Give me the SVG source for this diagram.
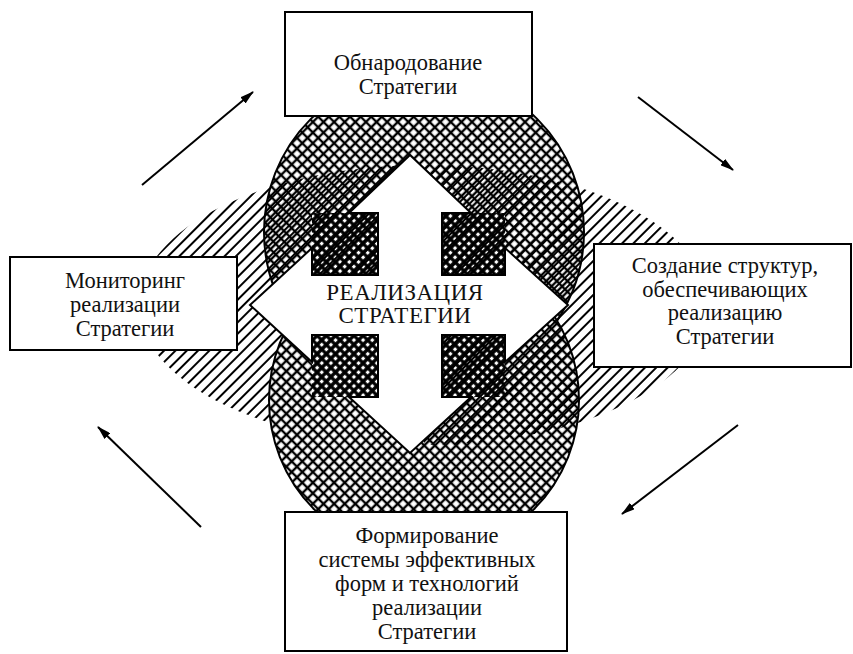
<svg xmlns="http://www.w3.org/2000/svg" width="853" height="654" viewBox="0 0 853 654">
<style>
.box{fill:#fff;stroke:#000;stroke-width:2}
.t{font-family:"Liberation Serif","Times New Roman",serif;font-size:22.5px;fill:#111;text-anchor:middle}
.tc{font-family:"Liberation Serif","Times New Roman",serif;font-size:23px;fill:#111;text-anchor:middle;letter-spacing:0.5px}
.arr{stroke:#000;stroke-width:2;fill:none;marker-end:url(#ah)}
</style>
<defs>
<pattern id="cross" width="7.5" height="7.5" patternUnits="userSpaceOnUse" patternTransform="rotate(45)">
<rect width="7.5" height="7.5" fill="#fff"/>
<path d="M0 0H7.5M0 7.5H7.5M0 0V7.5M7.5 0V7.5" stroke="#000" stroke-width="2.4"/>
</pattern>
<pattern id="crossD" width="6.5" height="6.5" patternUnits="userSpaceOnUse" patternTransform="rotate(45)">
<rect width="6.5" height="6.5" fill="#fff"/>
<path d="M0 0H6.5M0 6.5H6.5M0 0V6.5M6.5 0V6.5" stroke="#000" stroke-width="3.4"/>
</pattern>
<pattern id="hatch" width="8" height="8" patternUnits="userSpaceOnUse" patternTransform="rotate(-45)">
<path d="M0 4H8" stroke="#000" stroke-width="2"/>
</pattern>
<clipPath id="circ">
<circle cx="424" cy="232" r="160"/>
<circle cx="424" cy="400" r="155"/>
</clipPath>
<clipPath id="nobl">
<polygon points="0,0 853,0 853,654 424,654 424,310 0,310"/>
</clipPath>
<marker id="ah" viewBox="0 0 14 8" refX="13" refY="4" markerWidth="14" markerHeight="8" markerUnits="userSpaceOnUse" orient="auto">
<path d="M0 0L14 4L0 8Z" fill="#000"/>
</marker>
</defs>
<g id="background">
<ellipse cx="424" cy="305" rx="285" ry="140" fill="url(#hatch)"/>
<circle cx="424" cy="232" r="160" fill="url(#cross)" stroke="#000" stroke-width="2"/>
<circle cx="424" cy="400" r="155" fill="url(#cross)" stroke="#000" stroke-width="2"/>
<rect x="312" y="213" width="66" height="62" fill="url(#crossD)"/>
<rect x="442" y="213" width="63" height="62" fill="url(#crossD)"/>
<rect x="312" y="335" width="66" height="62" fill="url(#crossD)"/>
<rect x="442" y="335" width="63" height="62" fill="url(#crossD)"/>
<g clip-path="url(#circ)"><g clip-path="url(#nobl)">
<ellipse cx="424" cy="305" rx="285" ry="140" fill="url(#hatch)"/>
</g></g>
</g>
<g id="center">
<polygon points="410,155 471,213 442,213 442,275 505,275 505,248 568,305 505,362 505,335 442,335 442,397 471,397 410,453 349,397 378,397 378,335 312,335 312,362 250,305 312,248 312,275 378,275 378,213 349,213" fill="#fff" stroke="#000" stroke-width="2"/>
<text class="tc" x="405" y="300">РЕАЛИЗАЦИЯ</text>
<text class="tc" x="405" y="323">СТРАТЕГИИ</text>
</g>
<g id="top">
<rect class="box" x="285" y="12" width="247" height="104"/>
<text class="t" x="408" y="70">Обнародование</text>
<text class="t" x="408" y="94">Стратегии</text>
</g>
<g id="left">
<rect class="box" x="10" y="257" width="227" height="93"/>
<text class="t" x="125" y="288">Мониторинг</text>
<text class="t" x="125" y="312">реализации</text>
<text class="t" x="125" y="336">Стратегии</text>
</g>
<g id="right">
<rect class="box" x="594" y="244" width="257" height="123"/>
<text class="t" x="725" y="273">Создание структур,</text>
<text class="t" x="725" y="297">обеспечивающих</text>
<text class="t" x="725" y="320">реализацию</text>
<text class="t" x="725" y="344">Стратегии</text>
</g>
<g id="bottom">
<rect class="box" x="285" y="512" width="282" height="139"/>
<text class="t" x="427" y="543">Формирование</text>
<text class="t" x="427" y="567">системы эффективных</text>
<text class="t" x="427" y="591">форм и технологий</text>
<text class="t" x="427" y="615">реализации</text>
<text class="t" x="427" y="639">Стратегии</text>
</g>
<g id="connectors">
<line class="arr" x1="142" y1="185" x2="253" y2="92"/>
<line class="arr" x1="638" y1="97" x2="733" y2="170"/>
<line class="arr" x1="738" y1="425" x2="622" y2="514"/>
<line class="arr" x1="201" y1="527" x2="98" y2="427"/>
</g>
</svg>
